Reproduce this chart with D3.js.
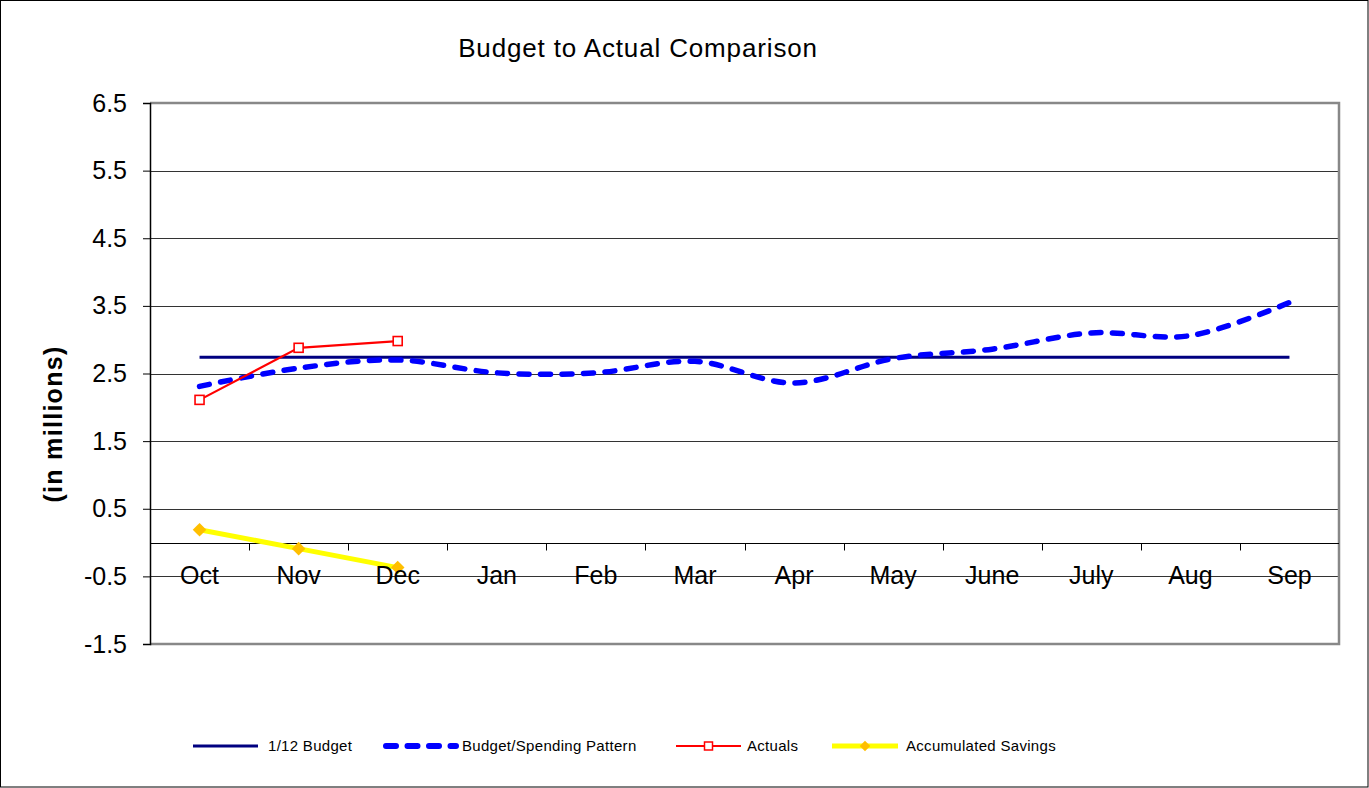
<!DOCTYPE html>
<html>
<head>
<meta charset="utf-8">
<script src="https://cdn.jsdelivr.net/npm/d3@7/dist/d3.min.js"></script>
<style>
  html, body { margin: 0; padding: 0; background: #fff; }
  svg { display: block; font-family: "Liberation Sans", Arial, sans-serif; }
</style>
</head>
<body>
<svg id="chart" width="1369" height="788"></svg>
<script>
// Fiscal-year months
const months = ["Oct", "Nov", "Dec", "Jan", "Feb", "Mar", "Apr", "May", "June", "July", "Aug", "Sep"];

// Monthly figures, in millions
const monthlyBudget   = [2.74, 2.74, 2.74, 2.74, 2.74, 2.74, 2.74, 2.74, 2.74, 2.74, 2.74, 2.74];
const spendingPattern = [2.31, 2.58, 2.70, 2.51, 2.51, 2.68, 2.36, 2.72, 2.86, 3.10, 3.06, 3.55];
const actuals         = [2.11, 2.88, 2.98];
const savings         = [0.19, -0.09, -0.37];

// Y axis ticks
const yTicks = [-1.5, -0.5, 0.5, 1.5, 2.5, 3.5, 4.5, 5.5, 6.5];

const legendItems = ["1/12 Budget", "Budget/Spending Pattern", "Actuals", "Accumulated Savings"];

const W = 1369, H = 788;
const plot = { left: 150, right: 1339, top: 103, bottom: 644 };

const svg = d3.select("#chart");

// outer chart frame
svg.append("rect")
  .attr("x", 0.5).attr("y", 0.5)
  .attr("width", W - 1.5).attr("height", H - 1.5)
  .attr("fill", "#fff").attr("stroke", "#000").attr("stroke-width", 1);

const x = d3.scaleBand().domain(months).range([plot.left, plot.right]).padding(0);
const y = d3.scaleLinear().domain([-1.5, 6.5]).range([plot.bottom, plot.top]);
const cx = m => x(m) + x.bandwidth() / 2;

// title
svg.append("text")
  .attr("x", 638).attr("y", 57)
  .attr("text-anchor", "middle")
  .style("font-size", "26px")
  .style("letter-spacing", "0.85px")
  .text("Budget to Actual Comparison");

// y axis title
svg.append("text")
  .attr("transform", "translate(62," + 424 + ") rotate(-90)")
  .attr("text-anchor", "middle")
  .style("font-size", "25px")
  .style("font-weight", "bold")
  .style("letter-spacing", "1.3px")
  .text("(in millions)");

// horizontal gridlines
svg.append("g")
  .selectAll("line")
  .data(yTicks.slice(1, -1))
  .join("line")
  .attr("x1", plot.left).attr("x2", plot.right)
  .attr("y1", d => Math.round(y(d)) + 0.5).attr("y2", d => Math.round(y(d)) + 0.5)
  .attr("stroke", "#333").attr("stroke-width", 1);

// plot area border (top/right/bottom in grey)
svg.append("path")
  .attr("d", `M${plot.left},${plot.top}H${plot.right}V${plot.bottom}H${plot.left}`)
  .attr("fill", "none").attr("stroke", "#888").attr("stroke-width", 2.5);

// y axis, labels with a plain hyphen for negatives
const fmt = d3.format(".1f");
const yAxis = d3.axisLeft(y)
  .tickValues(yTicks)
  .tickFormat(d => fmt(d).replace("\u2212", "-"))
  .tickSize(7)
  .tickPadding(16);
const gy = svg.append("g")
  .attr("transform", `translate(${plot.left},0)`)
  .call(yAxis);
gy.select(".domain").attr("stroke", "#000").attr("stroke-width", 1.5);
gy.selectAll(".tick line").attr("stroke", "#000");
gy.selectAll(".tick text")
  .attr("fill", "#000")
  .style("font-size", "25px")
  .style("font-family", "'Liberation Sans', Arial, sans-serif");

// x axis drawn at zero, with ticks between months
const zeroY = Math.round(y(0)) + 0.5;
svg.append("line")
  .attr("x1", plot.left).attr("x2", plot.right)
  .attr("y1", zeroY).attr("y2", zeroY)
  .attr("stroke", "#000").attr("stroke-width", 1.2);
svg.append("g")
  .selectAll("line")
  .data(months.slice(1))
  .join("line")
  .attr("x1", d => Math.round(x(d)) + 0.5).attr("x2", d => Math.round(x(d)) + 0.5)
  .attr("y1", zeroY).attr("y2", zeroY + 7)
  .attr("stroke", "#000").attr("stroke-width", 1);

// series
const straight = d3.line().x((d, i) => cx(months[i])).y(d => y(d));
const smooth = d3.line().x((d, i) => cx(months[i])).y(d => y(d)).curve(d3.curveCardinal);

svg.append("path")
  .datum(monthlyBudget)
  .attr("d", straight)
  .attr("fill", "none").attr("stroke", "#000080").attr("stroke-width", 3);

svg.append("path")
  .datum(spendingPattern)
  .attr("d", smooth)
  .attr("fill", "none").attr("stroke", "#0000ff").attr("stroke-width", 5.5)
  .attr("stroke-linecap", "round")
  .attr("stroke-dasharray", "10 11.5");

svg.append("path")
  .datum(actuals)
  .attr("d", straight)
  .attr("fill", "none").attr("stroke", "#ff0000").attr("stroke-width", 2.2);
svg.append("g")
  .selectAll("rect")
  .data(actuals)
  .join("rect")
  .attr("x", (d, i) => cx(months[i]) - 4.5).attr("y", d => y(d) - 4.5)
  .attr("width", 9).attr("height", 9)
  .attr("fill", "#fff").attr("stroke", "#ff0000").attr("stroke-width", 1.6);

svg.append("path")
  .datum(savings)
  .attr("d", straight)
  .attr("fill", "none").attr("stroke", "#ffff00").attr("stroke-width", 5);
svg.append("g")
  .selectAll("path")
  .data(savings)
  .join("path")
  .attr("d", d3.symbol().type(d3.symbolSquare).size(92))
  .attr("transform", (d, i) => `translate(${cx(months[i])},${y(d)}) rotate(45)`)
  .attr("fill", "#ffbf00");

// month labels
svg.append("g")
  .selectAll("text")
  .data(months)
  .join("text")
  .attr("x", d => cx(d)).attr("y", 584)
  .attr("text-anchor", "middle")
  .style("font-size", "25px")
  .text(d => d);

// legend
const legendX = [193, 383, 676, 832];
const legendY = 746;
const lg = svg.append("g").style("font-size", "15px");
// 1/12 Budget
lg.append("line").attr("x1", legendX[0]).attr("x2", legendX[0] + 65)
  .attr("y1", legendY).attr("y2", legendY)
  .attr("stroke", "#000080").attr("stroke-width", 3);
// Budget/Spending Pattern
lg.append("line").attr("x1", legendX[1] + 3).attr("x2", legendX[1] + 73)
  .attr("y1", legendY).attr("y2", legendY)
  .attr("stroke", "#0000ff").attr("stroke-width", 6)
  .attr("stroke-linecap", "round").attr("stroke-dasharray", "10 11.5");
// Actuals
lg.append("line").attr("x1", legendX[2]).attr("x2", legendX[2] + 65)
  .attr("y1", legendY).attr("y2", legendY)
  .attr("stroke", "#ff0000").attr("stroke-width", 2.2);
lg.append("rect").attr("x", legendX[2] + 32.5 - 4).attr("y", legendY - 4)
  .attr("width", 8).attr("height", 8)
  .attr("fill", "#fff").attr("stroke", "#ff0000").attr("stroke-width", 1.5);
// Accumulated Savings
lg.append("line").attr("x1", legendX[3]).attr("x2", legendX[3] + 66)
  .attr("y1", legendY).attr("y2", legendY)
  .attr("stroke", "#ffff00").attr("stroke-width", 5);
lg.append("path")
  .attr("d", d3.symbol().type(d3.symbolSquare).size(55))
  .attr("transform", `translate(${legendX[3] + 33},${legendY}) rotate(45)`)
  .attr("fill", "#ffbf00");

const textX = [268, 462, 747, 906];
lg.selectAll("text.lbl")
  .data(legendItems)
  .join("text")
  .attr("class", "lbl")
  .attr("x", (d, i) => textX[i]).attr("y", legendY + 5)
  .style("letter-spacing", "0.3px")
  .text(d => d);
</script>
</body>
</html>
